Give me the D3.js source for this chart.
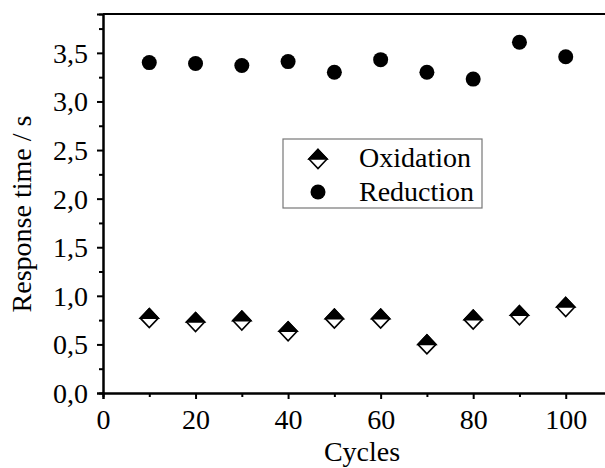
<!DOCTYPE html>
<html>
<head>
<meta charset="utf-8">
<script src="https://cdn.jsdelivr.net/npm/d3@7"></script>
<style>
  body { margin: 0; background: #fff; }
  svg { display: block; font-family: "Liberation Serif", "Times New Roman", serif; }
</style>
</head>
<body>
<div id="chart"></div>
<script>
// data
var cycles = [10, 20, 30, 40, 50, 60, 70, 80, 90, 100];
var oxidation = [0.77, 0.73, 0.745, 0.635, 0.765, 0.765, 0.50, 0.755, 0.80, 0.885];
var reduction = [3.40, 3.39, 3.37, 3.41, 3.30, 3.43, 3.30, 3.23, 3.61, 3.46];
var xTicks = [0, 20, 40, 60, 80, 100];
var yTicks = [0, 0.5, 1.0, 1.5, 2.0, 2.5, 3.0, 3.5];
var legendNames = ["Oxidation", "Reduction"];

var W = 605, H = 468;
var margin = { left: 103, top: 14, right: -7, bottom: 75 };
var width = W - margin.left - margin.right;
var height = H - margin.top - margin.bottom;
var fontSize = "28px";

var svg = d3.select("#chart").append("svg")
  .attr("width", W)
  .attr("height", H);

var g = svg.append("g")
  .attr("transform", "translate(" + margin.left + "," + margin.top + ")");

var x = d3.scaleLinear().domain([0, 110]).range([0, width]);
var y = d3.scaleLinear().domain([0, 3.9]).range([height, 0]);

var comma = d3.formatLocale({ decimal: ",", thousands: ".", grouping: [3], currency: ["", ""] }).format(".1f");

// frame top line
g.append("line")
  .attr("x1", 0).attr("x2", width)
  .attr("y1", 0).attr("y2", 0)
  .attr("stroke", "#000").attr("stroke-width", 2);

// minor ticks
var xAxisMinor = d3.axisBottom(x).tickValues(d3.range(10, 111, 20)).tickSize(4).tickFormat("");
var yAxisMinor = d3.axisLeft(y).tickValues(d3.range(0.25, 3.9, 0.5)).tickSize(4).tickFormat("");

g.append("g").attr("transform", "translate(0," + height + ")").call(xAxisMinor);
g.append("g").call(yAxisMinor);

// major axes
var xAxis = d3.axisBottom(x).tickValues(xTicks).tickSize(6).tickPadding(10);
var yAxis = d3.axisLeft(y).tickValues(yTicks).tickSize(6).tickPadding(9).tickFormat(comma);

var xg = g.append("g").attr("transform", "translate(0," + height + ")").call(xAxis);
var yg = g.append("g").call(yAxis);

g.selectAll(".domain").attr("stroke-width", 2);
g.selectAll(".tick line").attr("stroke-width", 2);

xg.selectAll("text")
  .attr("font-size", fontSize)
  .attr("font-family", "Liberation Serif")
  .attr("fill", "#000");
yg.selectAll("text")
  .attr("font-size", fontSize)
  .attr("font-family", "Liberation Serif")
  .attr("fill", "#000")
  .attr("dy", "0.34em");

// axis labels
svg.append("text")
  .attr("x", 362)
  .attr("y", 461)
  .attr("text-anchor", "middle")
  .attr("font-size", fontSize)
  .text("Cycles");

svg.append("text")
  .attr("transform", "translate(31,214) rotate(-90)")
  .attr("text-anchor", "middle")
  .attr("font-size", fontSize)
  .text("Response time / s");

// half-filled diamond
function diamond(w, h) {
  return "M0," + (-h / 2) + "L" + (w / 2) + ",0L0," + (h / 2) + "L" + (-w / 2) + ",0Z";
}
function diamondTop(w, h) {
  return "M0," + (-h / 2) + "L" + (w / 2) + ",0L" + (-w / 2) + ",0Z";
}

function drawDiamond(sel) {
  sel.append("path").attr("d", diamond(18, 19))
    .attr("fill", "#fff").attr("stroke", "#000").attr("stroke-width", 1.6);
  sel.append("path").attr("d", diamondTop(18, 19))
    .attr("fill", "#000").attr("stroke", "#000").attr("stroke-width", 1.6)
    .attr("stroke-linejoin", "miter");
}

var oxData = cycles.map(function (c, i) { return { c: c, v: oxidation[i] }; });
var redData = cycles.map(function (c, i) { return { c: c, v: reduction[i] }; });

g.selectAll(".ox")
  .data(oxData)
  .enter()
  .append("g")
  .attr("class", "ox")
  .attr("transform", function (d) { return "translate(" + x(d.c) + "," + y(d.v) + ")"; })
  .each(function () { drawDiamond(d3.select(this)); });

g.selectAll(".red")
  .data(redData)
  .enter()
  .append("circle")
  .attr("class", "red")
  .attr("cx", function (d) { return x(d.c); })
  .attr("cy", function (d) { return y(d.v); })
  .attr("r", 7.5)
  .attr("fill", "#000");

// legend
var legend = svg.append("g").attr("transform", "translate(283,139)");
legend.append("rect")
  .attr("x", 0).attr("y", 0)
  .attr("width", 199).attr("height", 69)
  .attr("fill", "#fff")
  .attr("stroke", "#777")
  .attr("stroke-width", 1.2);

var l1 = legend.append("g").attr("transform", "translate(35,20)");
drawDiamond(l1);
legend.append("circle")
  .attr("cx", 35).attr("cy", 53).attr("r", 7.5).attr("fill", "#000");

legend.selectAll(".lt")
  .data(legendNames)
  .enter()
  .append("text")
  .attr("class", "lt")
  .attr("x", 76)
  .attr("y", function (d, i) { return 28 + i * 34; })
  .attr("font-size", fontSize)
  .text(function (d) { return d; });
</script>
</body>
</html>
